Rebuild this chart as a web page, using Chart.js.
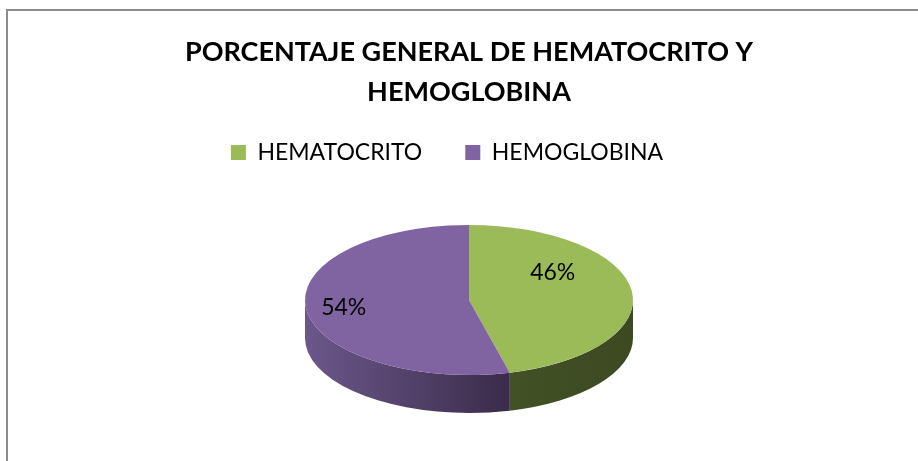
<!DOCTYPE html>
<html>
<head>
<meta charset="utf-8">
<script src="https://cdn.jsdelivr.net/npm/chart.js@4.4.1/dist/chart.umd.min.js"></script>
<style>
  html, body { margin: 0; padding: 0; background: #fff; }
  #wrap { position: relative; width: 918px; height: 461px; overflow: hidden; }
  #frame { position: absolute; left: 6px; top: 9px; width: 1000px; height: 1000px;
           border: 2px solid #8c8c8c; box-sizing: border-box; }
  canvas { position: absolute; left: 0; top: 0; }
</style>
</head>
<body>
<div id="wrap">
  <div id="frame"></div>
  <canvas id="grafico" width="918" height="461"></canvas>
</div>
<script>
// Datos
const categorias = ['HEMATOCRITO', 'HEMOGLOBINA'];
const porcentajes = [46, 54];
const tituloLineas = ['PORCENTAJE GENERAL DE HEMATOCRITO Y', 'HEMOGLOBINA'];

// Colores estilo Excel
const coloresCara = ['#9bbb59', '#8064a2'];
const coloresLado = [['#435126', '#3c4922'], ['#6c578b', '#3a2c4a']];

// Geometria de la torta 3D (elipse superior + grosor)
const torta = { cx: 469, cy: 300, rx: 164, ry: 75, grosor: 38 };
// Ubicacion de etiquetas: giro respecto al angulo medio y fraccion del radio
const ajusteEtiquetas = [{ giro: -0.5, r: 0.63 }, { giro: 0, r: 0.77 }];

// Lado visible (mitad frontal) de cada porcion
function dibujarLados(ctx, arcs) {
  const { cx, cy, rx, ry, grosor } = torta;
  arcs.forEach((arc, i) => {
    const { startAngle, endAngle } = arc.getProps(['startAngle', 'endAngle'], true);
    for (let k = -1; k <= 1; k++) {
      const a = Math.max(startAngle, 2 * Math.PI * k);
      const b = Math.min(endAngle, 2 * Math.PI * k + Math.PI);
      if (b <= a) continue;

      let xs = [cx + rx * Math.cos(a), cx + rx * Math.cos(b)];
      if (a <= 2 * Math.PI * k + Math.PI && b >= 2 * Math.PI * k + Math.PI) xs.push(cx - rx);
      if (a <= 2 * Math.PI * k && b >= 2 * Math.PI * k) xs.push(cx + rx);
      const x0 = Math.min(...xs), x1 = Math.max(...xs);

      const grad = ctx.createLinearGradient(x0, 0, x1, 0);
      grad.addColorStop(0, coloresLado[i][0]);
      grad.addColorStop(1, coloresLado[i][1]);

      ctx.beginPath();
      ctx.ellipse(cx, cy, rx, ry, 0, a, b);
      ctx.ellipse(cx, cy + grosor, rx, ry, 0, b, a, true);
      ctx.closePath();
      ctx.fillStyle = grad;
      ctx.fill();
    }
  });
}

const torta3d = {
  id: 'torta3d',
  afterLayout(chart) {
    // la leyenda de Excel queda un poco a la izquierda del titulo
    chart.legend.left -= 22;
    chart.legend.right -= 22;
  },
  beforeDatasetsDraw(chart) {
    const ctx = chart.ctx;
    const arcs = chart.getDatasetMeta(0).data;
    const { cx, cy, rx, ry } = torta;
    dibujarLados(ctx, arcs);

    // aplastar la torta plana de Chart.js en una elipse
    const r = arcs[0].outerRadius;
    ctx.save();
    ctx.translate(cx, cy);
    ctx.scale(rx / r, ry / r);
    ctx.translate(-arcs[0].x, -arcs[0].y);
  },
  afterDatasetsDraw(chart) {
    const ctx = chart.ctx;
    ctx.restore();

    // etiquetas de porcentaje
    const arcs = chart.getDatasetMeta(0).data;
    const total = porcentajes.reduce((s, v) => s + v, 0);
    const { cx, cy, rx, ry } = torta;
    ctx.save();
    ctx.font = '23px Lato';
    ctx.fillStyle = '#000';
    ctx.textAlign = 'center';
    ctx.textBaseline = 'middle';
    arcs.forEach((arc, i) => {
      const { startAngle, endAngle } = arc.getProps(['startAngle', 'endAngle'], true);
      const aj = ajusteEtiquetas[i];
      const mid = (startAngle + endAngle) / 2 + aj.giro;
      const x = cx + rx * aj.r * Math.cos(mid);
      const y = cy + ry * aj.r * Math.sin(mid);
      ctx.fillText(Math.round(porcentajes[i] / total * 100) + '%', x, y);
    });
    ctx.restore();
  }
};

new Chart(document.getElementById('grafico'), {
  type: 'pie',
  data: {
    labels: categorias,
    datasets: [{
      data: porcentajes,
      backgroundColor: coloresCara,
      borderWidth: 0
    }]
  },
  options: {
    responsive: false,
    animation: false,
    layout: { padding: { left: 20 } },
    plugins: {
      title: {
        display: true,
        text: tituloLineas,
        color: '#000',
        font: { family: 'Lato', size: 27, weight: 'bold', lineHeight: '40px' },
        padding: { top: 32, bottom: -14 }
      },
      legend: {
        position: 'top',
        labels: {
          color: '#000',
          font: { family: 'Lato', size: 23 },
          boxWidth: 15,
          boxHeight: 15,
          padding: 43
        }
      },
      tooltip: { enabled: false }
    }
  },
  plugins: [torta3d]
});
</script>
</body>
</html>
